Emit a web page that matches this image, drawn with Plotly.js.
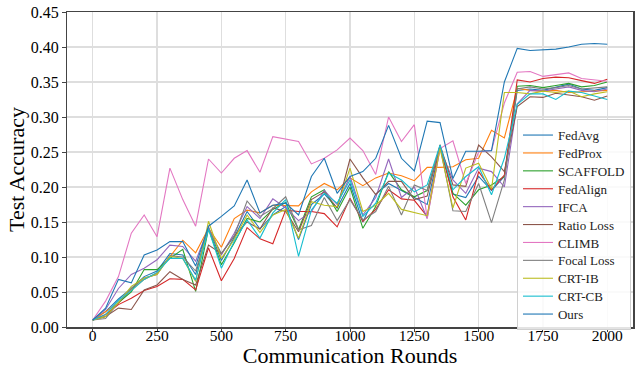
<!DOCTYPE html>
<html>
<head>
<meta charset="utf-8">
<script src="https://cdn.plot.ly/plotly-3.0.1.min.js"></script>
<style>html,body{margin:0;padding:0;background:#fff}#chart{width:635px;height:368px}</style>
</head>
<body>
<div id="chart"></div>
<script>
const rounds = [0,50,100,150,200,250,300,350,400,450,500,550,600,650,700,750,800,850,900,950,1000,1050,1100,1150,1200,1250,1300,1350,1400,1450,1500,1550,1600,1650,1700,1750,1800,1850,1900,1950,2000];

const seriesNames = ["FedAvg","FedProx","SCAFFOLD","FedAlign","IFCA","Ratio Loss","CLIMB","Focal Loss","CRT-IB","CRT-CB","Ours"];
const seriesColors = ["#1f77b4","#ff7f0e","#2ca02c","#d62728","#9467bd","#8c564b","#e377c2","#7f7f7f","#bcbd22","#17becf","#1f77b4"];

const fedAvg = [0.010,0.022,0.040,0.055,0.072,0.080,0.105,0.103,0.075,0.143,0.095,0.128,0.165,0.140,0.160,0.172,0.125,0.175,0.190,0.170,0.205,0.150,0.190,0.205,0.195,0.185,0.175,0.258,0.190,0.185,0.215,0.195,0.215,0.338,0.340,0.338,0.343,0.347,0.340,0.338,0.342];
const fedProx = [0.010,0.022,0.034,0.053,0.068,0.077,0.101,0.124,0.106,0.141,0.114,0.155,0.167,0.163,0.174,0.173,0.173,0.193,0.205,0.196,0.213,0.202,0.213,0.220,0.216,0.209,0.228,0.228,0.229,0.239,0.241,0.281,0.270,0.341,0.338,0.337,0.338,0.335,0.336,0.337,0.338];
const scaffold = [0.010,0.015,0.035,0.050,0.082,0.082,0.098,0.111,0.051,0.140,0.089,0.120,0.155,0.150,0.168,0.178,0.139,0.186,0.196,0.165,0.200,0.141,0.172,0.222,0.196,0.186,0.195,0.258,0.191,0.174,0.196,0.203,0.215,0.344,0.345,0.342,0.345,0.348,0.343,0.345,0.350];
const fedAlign = [0.010,0.018,0.032,0.041,0.052,0.058,0.069,0.068,0.053,0.113,0.066,0.098,0.142,0.126,0.119,0.167,0.165,0.165,0.162,0.143,0.184,0.151,0.168,0.196,0.183,0.181,0.158,0.260,0.186,0.153,0.222,0.196,0.217,0.353,0.350,0.355,0.357,0.356,0.352,0.348,0.354];
const ifca = [0.010,0.025,0.055,0.075,0.084,0.096,0.117,0.115,0.094,0.141,0.103,0.134,0.172,0.155,0.183,0.170,0.152,0.165,0.195,0.175,0.215,0.160,0.185,0.240,0.185,0.200,0.155,0.255,0.210,0.191,0.227,0.222,0.200,0.319,0.338,0.337,0.340,0.343,0.338,0.336,0.340];
const ratioLoss = [0.010,0.015,0.027,0.025,0.053,0.060,0.079,0.068,0.060,0.117,0.105,0.130,0.150,0.140,0.170,0.165,0.136,0.182,0.193,0.170,0.240,0.213,0.189,0.208,0.208,0.182,0.187,0.260,0.203,0.201,0.260,0.243,0.222,0.315,0.329,0.328,0.334,0.332,0.329,0.324,0.330];
const climb = [0.010,0.037,0.072,0.134,0.160,0.129,0.227,0.182,0.144,0.240,0.220,0.241,0.252,0.221,0.272,0.268,0.265,0.233,0.241,0.253,0.270,0.252,0.218,0.300,0.265,0.289,0.155,0.255,0.266,0.205,0.250,0.252,0.320,0.364,0.365,0.358,0.361,0.363,0.355,0.353,0.351];
const focalLoss = [0.010,0.012,0.035,0.055,0.070,0.075,0.102,0.100,0.080,0.140,0.105,0.130,0.180,0.158,0.169,0.186,0.139,0.145,0.185,0.152,0.182,0.153,0.165,0.201,0.160,0.203,0.195,0.258,0.166,0.165,0.205,0.149,0.210,0.340,0.343,0.340,0.342,0.345,0.340,0.341,0.343];
const crtIB = [0.010,0.015,0.035,0.058,0.070,0.075,0.101,0.098,0.065,0.151,0.098,0.125,0.160,0.135,0.160,0.168,0.127,0.179,0.174,0.172,0.227,0.165,0.174,0.191,0.168,0.163,0.159,0.255,0.170,0.227,0.234,0.197,0.335,0.335,0.333,0.337,0.335,0.337,0.329,0.333,0.336];
const crtCB = [0.010,0.018,0.038,0.052,0.068,0.078,0.098,0.098,0.067,0.140,0.084,0.122,0.153,0.127,0.163,0.182,0.101,0.167,0.191,0.177,0.210,0.158,0.177,0.220,0.210,0.193,0.203,0.260,0.196,0.215,0.229,0.189,0.241,0.318,0.333,0.333,0.325,0.337,0.335,0.330,0.325];
const ours = [0.010,0.027,0.068,0.063,0.103,0.110,0.122,0.122,0.087,0.144,0.158,0.173,0.210,0.163,0.174,0.177,0.160,0.215,0.241,0.191,0.215,0.222,0.241,0.288,0.241,0.223,0.294,0.292,0.212,0.251,0.251,0.252,0.350,0.398,0.395,0.396,0.397,0.400,0.404,0.405,0.404];

const seriesValues = [fedAvg,fedProx,scaffold,fedAlign,ifca,ratioLoss,climb,focalLoss,crtIB,crtCB,ours];

const traces = seriesNames.map((name,i)=>({
  x: rounds, y: seriesValues[i], name: name, type: 'scatter', mode: 'lines',
  line: {color: seriesColors[i], width: 1.1}
}));

const font = "Liberation Serif, Times New Roman, serif";
const layout = {
  width: 635, height: 368,
  margin: {l: 67, r: 2, t: 12, b: 41},
  paper_bgcolor: '#fff', plot_bgcolor: '#fff',
  font: {family: font, color: '#000'},
  showlegend: true,
  legend: {
    x: 0.795, y: 0.66, xanchor: 'left', yanchor: 'top',
    bgcolor: 'rgba(255,255,255,0.85)', bordercolor: '#d0d0d0', borderwidth: 1,
    font: {family: font, size: 13, color: '#222'},
    tracegroupgap: 0
  },
  xaxis: {
    range: [-100, 2100], tick0: 0, dtick: 250, tickmode: 'linear',
    showgrid: true, gridcolor: '#dedede', gridwidth: 1.5,
    zeroline: false, showline: true, mirror: true, linecolor: '#444', linewidth: 1.5,
    ticks: 'outside', ticklen: 3.5, tickcolor: '#444', tickwidth: 1,
    ticklabelstandoff: -10,
    tickfont: {family: font, size: 15.5, color: '#000'},
    title: {text: 'Communication Rounds', font: {family: font, size: 22, color: '#000'}, standoff: 0},
    automargin: false
  },
  yaxis: {
    range: [0, 0.45], tick0: 0, dtick: 0.05, tickmode: 'linear', tickformat: '.2f',
    showgrid: true, gridcolor: '#dedede', gridwidth: 1.5,
    zeroline: false, showline: true, mirror: true, linecolor: '#444', linewidth: 1.5,
    ticks: 'outside', ticklen: 3.5, tickcolor: '#444', tickwidth: 1,
    tickfont: {family: font, size: 16, color: '#000'},
    title: {text: 'Test Accuracy', font: {family: font, size: 22, color: '#000'}, standoff: 0},
    automargin: false
  }
};

const gd = document.getElementById('chart');
Plotly.newPlot(gd, traces, layout, {displayModeBar: false, staticPlot: true}).then(() => {
  // tighten legend row spacing to match the reference (about 17.9 px per entry)
  const step = 17.9;
  const items = gd.querySelectorAll('.legend .traces');
  if (!items.length) return;
  let y0 = null, oldStep = null, prevY = null;
  items.forEach((el, i) => {
    const m = /translate\(\s*([-\d.]+)[ ,]+([-\d.]+)\s*\)/.exec(el.getAttribute('transform') || '');
    if (!m) return;
    const y = parseFloat(m[2]);
    if (i === 0) y0 = y;
    if (i === 1) oldStep = y - prevY;
    prevY = y;
    el.setAttribute('transform', 'translate(' + m[1] + ',' + (y0 + i * step) + ')');
  });
  if (oldStep) {
    const shrink = (oldStep - step) * (items.length - 1);
    gd.querySelectorAll('.legend rect.bg').forEach(r => {
      const h = parseFloat(r.getAttribute('height'));
      r.setAttribute('height', h - shrink);
    });
  }
});
</script>
</body>
</html>
